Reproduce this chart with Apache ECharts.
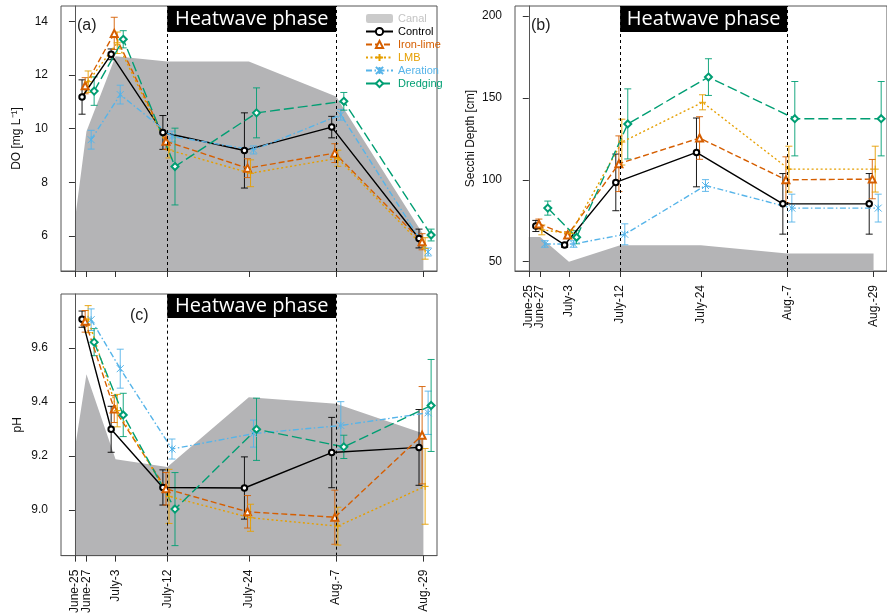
<!DOCTYPE html>
<html>
<head>
<meta charset="utf-8">
<script src="https://cdn.jsdelivr.net/npm/echarts@6/dist/echarts.min.js"></script>
<style>html,body{margin:0;padding:0;background:#fff}#c{width:887px;height:616px}</style>
</head>
<body>
<div id="c"></div>
<script>
// ---- categories / axis positions ----
const dates = ['June-25', 'June-27', 'July-3', 'July-12', 'July-24', 'Aug.-7', 'Aug.-29'];
const datePos = [0, 3.3, 11.65, 26.5, 49.9, 74.95, 100];   // sampling positions along the time axis
const treatments = ['Control', 'Iron-lime', 'LMB', 'Aeration', 'Dredging'];
const dodge = [-1.26, -0.37, 0.49, 1.35, 2.21];             // horizontal dodge of treatments

// ---- DO [mg/L] (June-27 .. Aug-29) ----
const doCanal = [6.6, 9.9, 12.7, 12.5, 12.5, 11.2, 6.05];   // June-25 .. Aug-29
const doControl = [11.18, 12.77, 9.86, 9.19, 10.06, 5.91];
const doControlErr = [0.64, 0.2, 0.63, 1.4, 0.4, 0.35];
const doIronLime = [11.6, 13.55, 9.53, 8.53, 9.09, 5.79];
const doIronLimeErr = [0.3, 0.6, 0.3, 0.35, 0.35, 0.3];
const doLMB = [11.75, 13.2, 9.21, 8.34, 8.9, 5.54];
const doLMBErr = [0.4, 0.4, 0.3, 0.5, 0.3, 0.4];
const doAeration = [9.59, 11.27, 9.71, 9.21, 10.52, 5.41];
const doAerationErr = [0.35, 0.35, 0.2, 0.15, 0.2, 0.15];
const doDredging = [11.4, 13.33, 8.59, 10.59, 11.02, 6.04];
const doDredgingErr = [0.53, 0.32, 1.43, 0.93, 0.33, 0.22];

// ---- Secchi depth [cm] ----
const sdCanal = [65, 65, 50, 60, 60, 55, 55];
const sdControl = [71.8, 60.2, 98.4, 116.7, 85.3, 85.3];
const sdControlErr = [3.4, 1.5, 17.3, 21, 18.5, 18.5];
const sdIronLime = [73, 66.3, 109.8, 125.5, 100, 100.4];
const sdIronLimeErr = [3, 2, 17, 13, 14, 12];
const sdLMB = [69.4, 67.3, 123, 147.3, 106.5, 106.5];
const sdLMBErr = [3, 2, 14, 4.6, 14, 14];
const sdAeration = [60.8, 60.8, 66.7, 96.5, 82.7, 82.7];
const sdAerationErr = [2, 2, 6.4, 3.6, 8.5, 8.5];
const sdDredging = [82.7, 64.9, 134.1, 162.7, 137.3, 137.3];
const sdDredgingErr = [4.3, 4, 21.4, 11.2, 22.7, 22.7];

// ---- pH ----
const phCanal = [9.228, 9.502, 9.188, 9.16, 9.417, 9.393, 9.283];
const phControl = [9.706, 9.299, 9.084, 9.082, 9.213, 9.232];
const phControlErr = [0.03, 0.085, 0.065, 0.115, 0.13, 0.14];
const phIronLime = [9.698, 9.374, 9.079, 8.994, 8.974, 9.277];
const phIronLimeErr = [0.04, 0.05, 0.06, 0.06, 0.1, 0.18];
const phLMB = [9.706, 9.368, 9.051, 8.972, 8.941, 9.088];
const phLMBErr = [0.05, 0.06, 0.1, 0.05, 0.07, 0.14];
const phAeration = [9.704, 9.523, 9.226, 9.283, 9.313, 9.36];
const phAerationErr = [0.04, 0.072, 0.037, 0.05, 0.088, 0.08];
const phDredging = [9.621, 9.352, 9.004, 9.299, 9.234, 9.387];
const phDredgingErr = [0.05, 0.08, 0.135, 0.115, 0.043, 0.17];

// ---- axis tick labels ----
const doTicks = [6, 8, 10, 12, 14];
const sdTicks = [50, 100, 150, 200];
const phTicks = [9.0, 9.2, 9.4, 9.6];

// ---- styles ----
const colors = {'Control': '#000000', 'Iron-lime': '#D55E00', 'LMB': '#E69F00', 'Aeration': '#56B4E9', 'Dredging': '#009E73'};
const canalColor = '#b4b4b6';
const lineTypes = {'Control': 'solid', 'Iron-lime': [6, 3], 'LMB': [2, 2.5], 'Aeration': [6, 2.5, 1.5, 2.5], 'Dredging': [10, 4]};
const symbols = {
  'Control': 'emptyCircle',
  'Iron-lime': 'emptyTriangle',
  'LMB': 'path://M5,0L5,10M0,5L10,5',
  'Aeration': 'path://M0,0L10,10M10,0L0,10M5,0L5,10',
  'Dredging': 'emptyDiamond'
};

const panels = [
  {canal: doCanal, vals: [doControl, doIronLime, doLMB, doAeration, doDredging],
   errs: [doControlErr, doIronLimeErr, doLMBErr, doAerationErr, doDredgingErr],
   min: 4.70, max: 14.57, bannerBottom: 13.60, ticks: doTicks, name: 'DO [mg L\u207B\u00B9]', fmt: v => String(v), xLabels: false,
   grid: {left: 61, top: 6, width: 376, height: 265}, nameGap: 38},
  {canal: sdCanal, vals: [sdControl, sdIronLime, sdLMB, sdAeration, sdDredging],
   errs: [sdControlErr, sdIronLimeErr, sdLMBErr, sdAerationErr, sdDredgingErr],
   min: 44.3, max: 206.1, bannerBottom: 190.2, ticks: sdTicks, name: 'Secchi Depth [cm]', fmt: v => String(v), xLabels: true,
   grid: {left: 515, top: 6, width: 376, height: 265}, nameGap: 38},
  {canal: phCanal, vals: [phControl, phIronLime, phLMB, phAeration, phDredging],
   errs: [phControlErr, phIronLimeErr, phLMBErr, phAerationErr, phDredgingErr],
   min: 8.832, max: 9.799, bannerBottom: 9.710, ticks: phTicks, name: 'pH', fmt: v => v.toFixed(1), xLabels: true,
   grid: {left: 61, top: 294, width: 376, height: 264}, nameGap: 37}
];

const font = 'Liberation Sans, Arial, sans-serif';
const axisColor = '#555';

function dateLabel(v) {
  let best = 0;
  for (let i = 0; i < datePos.length; i++) if (Math.abs(datePos[i] - v) < Math.abs(datePos[best] - v)) best = i;
  return dates[best];
}

function errRender(params, api) {
  const x = api.value(0), y = api.value(1), e = api.value(2);
  const p1 = api.coord([x, y + e]), p2 = api.coord([x, y - e]);
  const c = api.visual('color');
  const w = 3.5;
  const mk = (x1, y1, x2, y2) => ({type: 'line', shape: {x1, y1, x2, y2}, style: {stroke: c, lineWidth: 1, opacity: 0.9}});
  return {type: 'group', children: [
    mk(p1[0], p1[1], p2[0], p2[1]),
    mk(p1[0] - w, p1[1], p1[0] + w, p1[1]),
    mk(p2[0] - w, p2[1], p2[0] + w, p2[1])
  ]};
}

const labelStyle = {rotate: 90, margin: 14, fontSize: 12, fontFamily: font, color: '#111', formatter: dateLabel, hideOverlap: false};
const mainLabelPos = datePos.filter((v, i) => i !== 1);   // June-27 label goes on an overlay axis (too close to June-25)

const grids = [], xAxes = [], yAxes = [], series = [];
panels.forEach((p, pi) => {
  grids.push(Object.assign({show: true, borderColor: axisColor, borderWidth: 1, backgroundColor: 'transparent'}, p.grid));
  xAxes.push({
    type: 'value', gridIndex: pi, min: -4.0, max: 103.9, z: 10,
    axisLine: {show: true, onZero: false, lineStyle: {color: axisColor, width: 1}},
    axisTick: {show: true, length: 6, customValues: datePos, lineStyle: {color: '#333'}},
    axisLabel: Object.assign({show: p.xLabels, customValues: mainLabelPos}, labelStyle),
    splitLine: {show: false}
  });
  yAxes.push({
    type: 'value', gridIndex: pi, min: p.min, max: p.max, z: 10,
    name: p.name, nameLocation: 'middle', nameGap: p.nameGap, nameRotate: 90,
    nameTextStyle: {fontSize: 12, fontFamily: font, color: '#111'},
    axisLine: {show: true, lineStyle: {color: axisColor, width: 1}},
    axisTick: {show: true, length: 6, customValues: p.ticks, lineStyle: {color: '#333'}},
    axisLabel: {customValues: p.ticks, margin: 13, fontSize: 12, fontFamily: font, color: '#111', formatter: p.fmt},
    splitLine: {show: false}
  });
  // canal area + heatwave banner + phase boundaries
  series.push({
    name: 'Canal', type: 'line', xAxisIndex: pi, yAxisIndex: pi, z: 1,
    data: p.canal.map((v, i) => [datePos[i], v]),
    symbol: 'none', color: canalColor,
    lineStyle: {width: 0},
    areaStyle: {color: canalColor, opacity: 1, origin: 'start'},
    markArea: {
      silent: true, itemStyle: {color: '#000'},
      label: {show: true, position: 'inside', color: '#fff', fontSize: 20, fontFamily: 'Open Sans, Noto Sans, sans-serif'},
      data: [[{xAxis: datePos[3], yAxis: p.bannerBottom, name: 'Heatwave phase'}, {xAxis: datePos[5], yAxis: p.max}]]
    },
    markLine: {
      silent: true, symbol: ['none', 'none'], label: {show: false},
      lineStyle: {color: '#000', type: [3, 3], width: 1},
      data: [{xAxis: datePos[3]}, {xAxis: datePos[5]}]
    }
  });
  treatments.forEach((t, ti) => {
    const pts = p.vals[ti].map((v, i) => [datePos[i + 1] + dodge[ti], v]);
    series.push({
      name: t, type: 'line', xAxisIndex: pi, yAxisIndex: pi, z: 4,
      data: pts, color: colors[t],
      symbol: symbols[t], symbolSize: t === 'Control' ? 5.5 : 7, showSymbol: true,
      itemStyle: {color: colors[t], borderColor: colors[t], borderWidth: 1},
      lineStyle: {color: colors[t], width: 1.4, type: lineTypes[t]}
    });
    series.push({
      name: t + ' SE', type: 'custom', xAxisIndex: pi, yAxisIndex: pi, z: 3,
      itemStyle: {color: colors[t]},
      renderItem: errRender,
      encode: {x: 0, y: 1},
      data: p.vals[ti].map((v, i) => [datePos[i + 1] + dodge[ti], v, p.errs[ti][i]])
    });
  });
});
// overlay axes carrying only the June-27 label
panels.forEach((p, pi) => {
  if (!p.xLabels) return;
  xAxes.push({
    type: 'value', gridIndex: pi, min: -4.0, max: 103.9, position: 'bottom', z: 10,
    axisLine: {show: false}, axisTick: {show: false}, splitLine: {show: false},
    axisLabel: Object.assign({show: true, customValues: [datePos[1]]}, labelStyle)
  });
});

const option = {
  animation: false,
  backgroundColor: '#fff',
  grid: grids, xAxis: xAxes, yAxis: yAxes, series: series,
  legend: {
    orient: 'vertical', left: 365, top: 13, padding: 0, itemWidth: 27, itemHeight: 9, itemGap: 2,
    textStyle: {fontSize: 11, fontFamily: font, lineHeight: 10},
    selectedMode: false,
    data: [
      {name: 'Canal', icon: 'roundRect', itemStyle: {color: '#cbcbcb'}, textStyle: {color: '#c4c4c4'}},
      {name: 'Control', textStyle: {color: colors['Control']}},
      {name: 'Iron-lime', textStyle: {color: colors['Iron-lime']}},
      {name: 'LMB', textStyle: {color: colors['LMB']}},
      {name: 'Aeration', textStyle: {color: colors['Aeration']}},
      {name: 'Dredging', textStyle: {color: colors['Dredging']}}
    ]
  },
  title: [
    {text: '(a)', left: 72, top: 13, textStyle: {fontSize: 16, fontWeight: 'normal', fontFamily: font, color: '#222'}},
    {text: '(b)', left: 526, top: 13, textStyle: {fontSize: 16, fontWeight: 'normal', fontFamily: font, color: '#222'}},
    {text: '(c)', left: 125, top: 303, textStyle: {fontSize: 16, fontWeight: 'normal', fontFamily: font, color: '#222'}}
  ]
};

const chart = echarts.init(document.getElementById('c'), null, {renderer: 'canvas'});
chart.setOption(option);
</script>
</body>
</html>
